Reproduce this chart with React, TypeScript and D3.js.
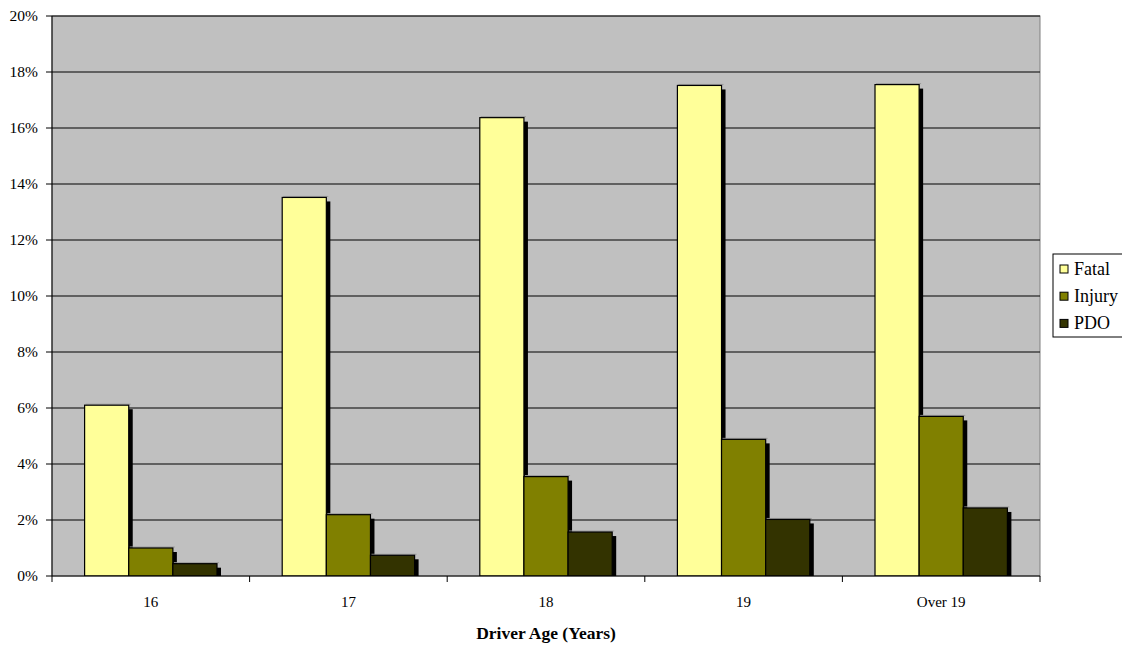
import React from "react";
import * as d3 from "d3";

const categories = ["16", "17", "18", "19", "Over 19"];
const seriesNames = ["Fatal", "Injury", "PDO"];
const fatal = [6.1, 13.52, 16.37, 17.52, 17.55];
const injury = [1.0, 2.19, 3.55, 4.88, 5.7];
const pdo = [0.44, 0.74, 1.57, 2.02, 2.43];
const seriesColors = ["#FFFF99", "#808000", "#333300"];
const yTicks = [0, 2, 4, 6, 8, 10, 12, 14, 16, 18, 20];

const W = 1122;
const H = 658;
const plot = { left: 52, top: 16, right: 1040, bottom: 576 };
const font = "'Times New Roman', 'Liberation Serif', serif";

export default function App() {
  const series = [fatal, injury, pdo];
  const x0 = d3
    .scaleBand<string>()
    .domain(categories)
    .range([plot.left, plot.right])
    .paddingInner(0.33)
    .paddingOuter(0.165);
  const x1 = d3
    .scaleBand<string>()
    .domain(seriesNames)
    .range([0, x0.bandwidth()]);
  const y = d3.scaleLinear().domain([0, 20]).range([plot.bottom, plot.top]);
  const step = (plot.right - plot.left) / categories.length;
  const sh = 4;

  return (
    <svg
      width={W}
      height={H}
      style={{ position: "absolute", left: 0, top: 0, background: "#fff" }}
      fontFamily={font}
    >
      <defs>
        <clipPath id="plotClip">
          <rect x={plot.left} y={plot.top} width={plot.right - plot.left} height={plot.bottom - plot.top} />
        </clipPath>
      </defs>
      <rect
        x={plot.left}
        y={plot.top}
        width={plot.right - plot.left}
        height={plot.bottom - plot.top}
        fill="#C0C0C0"
        stroke="#808080"
        strokeWidth={1}
      />
      {yTicks.slice(1).map((t) => (
        <line key={t} x1={plot.left} x2={plot.right} y1={y(t)} y2={y(t)} stroke="#000" strokeWidth={1} />
      ))}
      <g clipPath="url(#plotClip)">
        {categories.map((c, ci) =>
          series.map((vals, si) => {
            const bx = (x0(c) as number) + (x1(seriesNames[si]) as number);
            const bw = x1.bandwidth();
            const top = y(vals[ci]);
            return (
              <rect
                key={`s-${c}-${si}`}
                x={bx + sh}
                y={top + sh}
                width={bw}
                height={plot.bottom - top}
                fill="#000"
              />
            );
          })
        )}
        {categories.map((c, ci) =>
          series.map((vals, si) => {
            const bx = (x0(c) as number) + (x1(seriesNames[si]) as number);
            const bw = x1.bandwidth();
            const top = y(vals[ci]);
            return (
              <g key={`b-${c}-${si}`}>
                <line x1={bx + 1} x2={bx + bw + 2} y1={top - 1} y2={top - 1} stroke="#9a9a9a" strokeWidth={1} />
                <rect
                  x={bx}
                  y={top}
                  width={bw}
                  height={plot.bottom - top}
                  fill={seriesColors[si]}
                  stroke="#000"
                  strokeWidth={1.2}
                />
              </g>
            );
          })
        )}
      </g>
      {/* axes */}
      <line x1={plot.left} x2={plot.left} y1={plot.top} y2={plot.bottom} stroke="#000" />
      <line x1={plot.left} x2={plot.right} y1={plot.bottom} y2={plot.bottom} stroke="#000" />
      {yTicks.map((t) => (
        <g key={`yt-${t}`}>
          <line x1={plot.left - 6} x2={plot.left} y1={y(t)} y2={y(t)} stroke="#000" />
          <text x={plot.left - 14} y={y(t)} dy="0.35em" textAnchor="end" fontSize={15.5}>
            {`${t}%`}
          </text>
        </g>
      ))}
      {d3.range(categories.length + 1).map((i) => (
        <line
          key={`xt-${i}`}
          x1={plot.left + i * step}
          x2={plot.left + i * step}
          y1={plot.bottom}
          y2={plot.bottom + 6}
          stroke="#000"
        />
      ))}
      {categories.map((c) => (
        <text
          key={`xl-${c}`}
          x={(x0(c) as number) + x0.bandwidth() / 2}
          y={607}
          textAnchor="middle"
          fontSize={15}
        >
          {c}
        </text>
      ))}
      <text x={546} y={639} textAnchor="middle" fontSize={17.5} fontWeight="bold">
        Driver Age (Years)
      </text>
      {/* legend */}
      <rect x={1053} y={254} width={72} height={83} fill="#fff" stroke="#000" strokeWidth={1} />
      {seriesNames.map((n, i) => (
        <g key={`lg-${n}`}>
          <rect x={1060} y={265 + i * 27.2} width={8} height={8} fill={seriesColors[i]} stroke="#000" />
          <text x={1074} y={275 + i * 27.2} fontSize={18}>
            {n}
          </text>
        </g>
      ))}
    </svg>
  );
}
